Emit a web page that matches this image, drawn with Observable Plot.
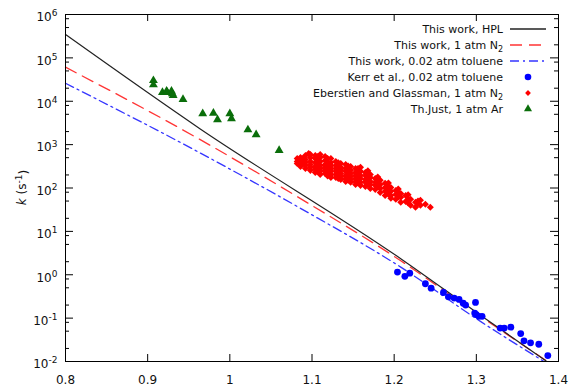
<!DOCTYPE html>
<html><head><meta charset="utf-8">
<script src="https://cdn.jsdelivr.net/npm/d3@7"></script>
<script src="https://cdn.jsdelivr.net/npm/@observablehq/plot@0.6"></script>
<style>
body{margin:0;background:#fff;}
#wrap{position:relative;width:576px;height:391px;font-family:"DejaVu Sans",sans-serif;}
#legend{position:absolute;left:0;top:0;pointer-events:none;}
</style></head><body><div id="wrap"></div>
<script>
// ---- Model lines (x = 1000/T, k in s^-1) ----
const hplX = [0.8, 0.964, 1.208, 1.305, 1.385];
const hplK = [3.46e5, 2300, 2.35, 0.117, 0.0102];
const n2X  = [0.8, 0.964, 1.086, 1.208, 1.305, 1.386];
const n2K  = [6.1e4, 1300, 57, 2.1, 0.11, 0.0102];
const tolX = [0.8, 0.964, 1.086, 1.208, 1.305, 1.382];
const tolK = [2.6e4, 640, 34, 1.5, 0.084, 0.0101];

// ---- Kerr et al., 0.02 atm toluene ----
const kerrX = [1.204, 1.213, 1.219, 1.238, 1.245, 1.260, 1.266, 1.273, 1.279, 1.284, 1.287, 1.299, 1.298, 1.300, 1.303, 1.307, 1.329, 1.334, 1.342, 1.354, 1.358, 1.366, 1.376, 1.387];
const kerrK = [1.15, 0.92, 1.09, 0.62, 0.49, 0.39, 0.31, 0.29, 0.27, 0.22, 0.20, 0.23, 0.131, 0.12, 0.110, 0.110, 0.059, 0.059, 0.062, 0.044, 0.030, 0.027, 0.025, 0.0137];

// ---- Eberstein and Glassman, 1 atm N2 (grouped by 1000/T) ----
const ebX = [1.082, 1.086, 1.089, 1.092, 1.096, 1.098, 1.104, 1.107, 1.110, 1.116, 1.119, 1.123, 1.129, 1.132, 1.135, 1.141, 1.144, 1.147, 1.153, 1.156, 1.159, 1.165, 1.168, 1.171, 1.177, 1.180, 1.183, 1.189, 1.193, 1.196, 1.202, 1.205, 1.208, 1.214, 1.217, 1.220, 1.226, 1.229, 1.232, 1.238, 1.244];
const ebK = [
  [481, 410, 369], [507, 432, 350, 315], [470, 380], [564, 456, 389, 332, 283], [627],
  [594, 507, 410, 350, 299, 255], [564, 481, 389, 315, 269, 229], [530, 440, 360, 290, 240],
  [594, 507, 410, 332, 283, 242, 206], [535, 432, 350, 299, 255, 217], [480, 400, 330, 270, 230, 190],
  [481, 389, 332, 283, 242, 206, 175], [410, 332, 283, 242, 206, 175], [380, 310, 260, 220, 190, 165],
  [369, 299, 255, 217, 185, 158], [350, 283, 242, 195, 166, 142], [320, 265, 220, 180, 150],
  [315, 255, 217, 185, 158, 135], [283, 229, 195, 166, 142, 121], [280, 235, 190, 160, 130],
  [299, 242, 195, 166, 135, 115], [229, 195, 158, 135, 109], [250, 210, 175, 145, 120],
  [206, 175, 142, 121, 98], [166, 135, 115, 93], [180, 150, 125, 105], [150, 121, 98, 79],
  [128, 103, 84, 67], [130, 110, 90, 72], [103, 84, 67, 58], [88, 71, 55], [95, 78, 62],
  [75, 61, 47], [67, 49], [70, 55, 45], [55, 40], [47, 36], [50, 44], [52, 40], [42], [36]
];

// ---- Th.Just, 1 atm Ar ----
const justX = [0.907, 0.907, 0.918, 0.923, 0.924, 0.929, 0.930, 0.931, 0.943, 0.967, 0.980, 0.985, 1.000, 1.002, 1.022, 1.032, 1.060];
const justK = [3.0e4, 2.4e4, 1.6e4, 1.7e4, 1.6e4, 1.7e4, 1.5e4, 1.36e4, 1.1e4, 5.2e3, 5.3e3, 3.75e3, 5.15e3, 3.95e3, 2.2e3, 1.7e3, 735];

// ---- Axis ticks ----
const xTicks = [0.8, 0.9, 1.0, 1.1, 1.2, 1.3, 1.4];
const yExps = [-2, -1, 0, 1, 2, 3, 4, 5, 6];
const yMinorMult = [2, 5, 8];

// ---- Build tables ----
const toRows = (X, K) => X.map((x, i) => ({x, k: K[i]}));
const hpl = toRows(hplX, hplK), n2 = toRows(n2X, n2K), tol = toRows(tolX, tolK);
const kerr = toRows(kerrX, kerrK), just = toRows(justX, justK);
const eb = ebX.flatMap((x, i) => ebK[i].map(k => ({x, k})));
const decades = yExps.map(e => Math.pow(10, e));
const minors = decades.slice(0, -1).flatMap(d => yMinorMult.map(m => m * d));

const W = 576, H = 391, mL = 65, mR = 18, mT = 14, mB = 30;
const fw = W - mL - mR, fh = H - mT - mB;
const majorLen = 8, minorLen = 4, xLen = 7;
const rTri = 3.3, rDia = 2.8, rCirc = 3.4;

const plot = Plot.plot({
  width: W, height: H,
  marginLeft: mL, marginRight: mR, marginTop: mT, marginBottom: mB,
  style: {fontFamily: "DejaVu Sans, sans-serif", fontSize: "12px", color: "#111", background: "#fff", overflow: "visible"},
  x: {domain: [0.8, 1.4]},
  y: {type: "log", domain: [0.01, 1e6]},
  marks: [
    Plot.axisX({ticks: xTicks, tickSize: 0, tickPadding: 14, tickFormat: d => d3.format("~g")(d), label: null, fontSize: 12}),
    Plot.axisY({ticks: decades, tickSize: 0, tickPadding: 8, tickFormat: d => "10^" + Math.round(Math.log10(d)), label: null, fontSize: 12, dy: 3}),
    // inward ticks (gnuplot style) on all four sides
    Plot.tickY(decades, {y: d => d, insetRight: fw - majorLen, stroke: "#000"}),
    Plot.tickY(decades, {y: d => d, insetLeft: fw - majorLen, stroke: "#000"}),
    Plot.tickY(minors, {y: d => d, insetRight: fw - minorLen, stroke: "#000"}),
    Plot.tickY(minors, {y: d => d, insetLeft: fw - minorLen, stroke: "#000"}),
    Plot.tickX(xTicks, {x: d => d, insetTop: fh - xLen, stroke: "#000"}),
    Plot.tickX(xTicks, {x: d => d, insetBottom: fh - xLen, stroke: "#000"}),
    // model lines
    Plot.line(tol, {x: "x", y: "k", stroke: "#3535ff", strokeWidth: 1.3, strokeDasharray: "9,4,2,4", curve: "monotone-x"}),
    Plot.line(n2, {x: "x", y: "k", stroke: "#ff3535", strokeWidth: 1.3, strokeDasharray: "12,7", curve: "monotone-x"}),
    Plot.line(hpl, {x: "x", y: "k", stroke: "#222", strokeWidth: 1.2, curve: "monotone-x"}),
    // data
    Plot.dot(just, {x: "x", y: "k", symbol: "triangle", r: rTri, fill: "#0a6e0a", stroke: "none"}),
    Plot.dot(eb, {x: "x", y: "k", symbol: "square", r: rDia, rotate: 45, fill: "#ff0000", stroke: "none"}),
    Plot.dot(kerr, {x: "x", y: "k", r: rCirc, fill: "#0000ff", stroke: "none"}),
    Plot.frame({stroke: "#000", strokeWidth: 1})
  ]
});

// superscripts on y tick labels
d3.select(plot).selectAll("text").each(function() {
  const s = this.textContent;
  const m = /^10\^(-?\d+)$/.exec(s);
  if (m) {
    const t = d3.select(this);
    t.text(null);
    t.append("tspan").text("10");
    t.append("tspan").attr("dy", "-0.55em").attr("font-size", "9px").text(m[1]);
  }
});

// y-axis title
const yr = plot.scale("y").range;
const yl = d3.select(plot).append("text")
  .attr("transform", `translate(${mL - 43},${(yr[0] + yr[1]) / 2}) rotate(-90)`)
  .attr("text-anchor", "middle").attr("dy", "0.35em")
  .attr("font-size", "12px").attr("fill", "#111");
yl.append("tspan").attr("font-style", "italic").text("k");
yl.append("tspan").text(" (s");
yl.append("tspan").attr("dy", "-0.5em").attr("font-size", "9px").text("-1");
yl.append("tspan").attr("dy", "0.5em").text(")");

const wrap = document.getElementById("wrap");
wrap.appendChild(plot);

// legend (inside the frame, top-right)
const legendItems = [
  {label: ["This work, HPL"], kind: "line", color: "#222", dash: null},
  {label: ["This work, 1 atm N", "2"], kind: "line", color: "#ff3535", dash: "12,7"},
  {label: ["This work, 0.02 atm toluene"], kind: "line", color: "#3535ff", dash: "9,4,2,4"},
  {label: ["Kerr et al., 0.02 atm toluene"], kind: "circle", color: "#0000ff"},
  {label: ["Eberstien and Glassman, 1 atm N", "2"], kind: "diamond", color: "#ff0000"},
  {label: ["Th.Just, 1 atm Ar"], kind: "triangle", color: "#0a6e0a"}
];
const lg = d3.select(wrap).append("svg").attr("id", "legend").attr("width", W).attr("height", H);
const textRight = 503, sx1 = 510, sx2 = 546, sc = 528, row0 = 29, rowH = 16;
legendItems.forEach((it, i) => {
  const y = row0 + i * rowH;
  const t = lg.append("text").attr("x", textRight).attr("y", y).attr("dy", "0.35em")
    .attr("text-anchor", "end").attr("font-family", "DejaVu Sans, sans-serif").attr("font-size", "11px").attr("fill", "#111");
  t.append("tspan").text(it.label[0]);
  if (it.label[1]) t.append("tspan").attr("dy", "0.35em").attr("font-size", "8px").text(it.label[1]);
  if (it.kind === "line") {
    lg.append("line").attr("x1", sx1).attr("x2", sx2).attr("y1", y).attr("y2", y)
      .attr("stroke", it.color).attr("stroke-width", 1.3).attr("stroke-dasharray", it.dash);
  } else if (it.kind === "circle") {
    lg.append("circle").attr("cx", sc).attr("cy", y).attr("r", 3.3).attr("fill", it.color);
  } else if (it.kind === "diamond") {
    lg.append("path").attr("d", d3.symbol(d3.symbolSquare, 2.3 * 2.3 * Math.PI)()).attr("transform", `translate(${sc},${y}) rotate(45)`).attr("fill", it.color);
  } else {
    lg.append("path").attr("d", d3.symbol(d3.symbolTriangle, 3 * 3 * Math.PI)()).attr("transform", `translate(${sc},${y})`).attr("fill", it.color);
  }
});
</script></body></html>
